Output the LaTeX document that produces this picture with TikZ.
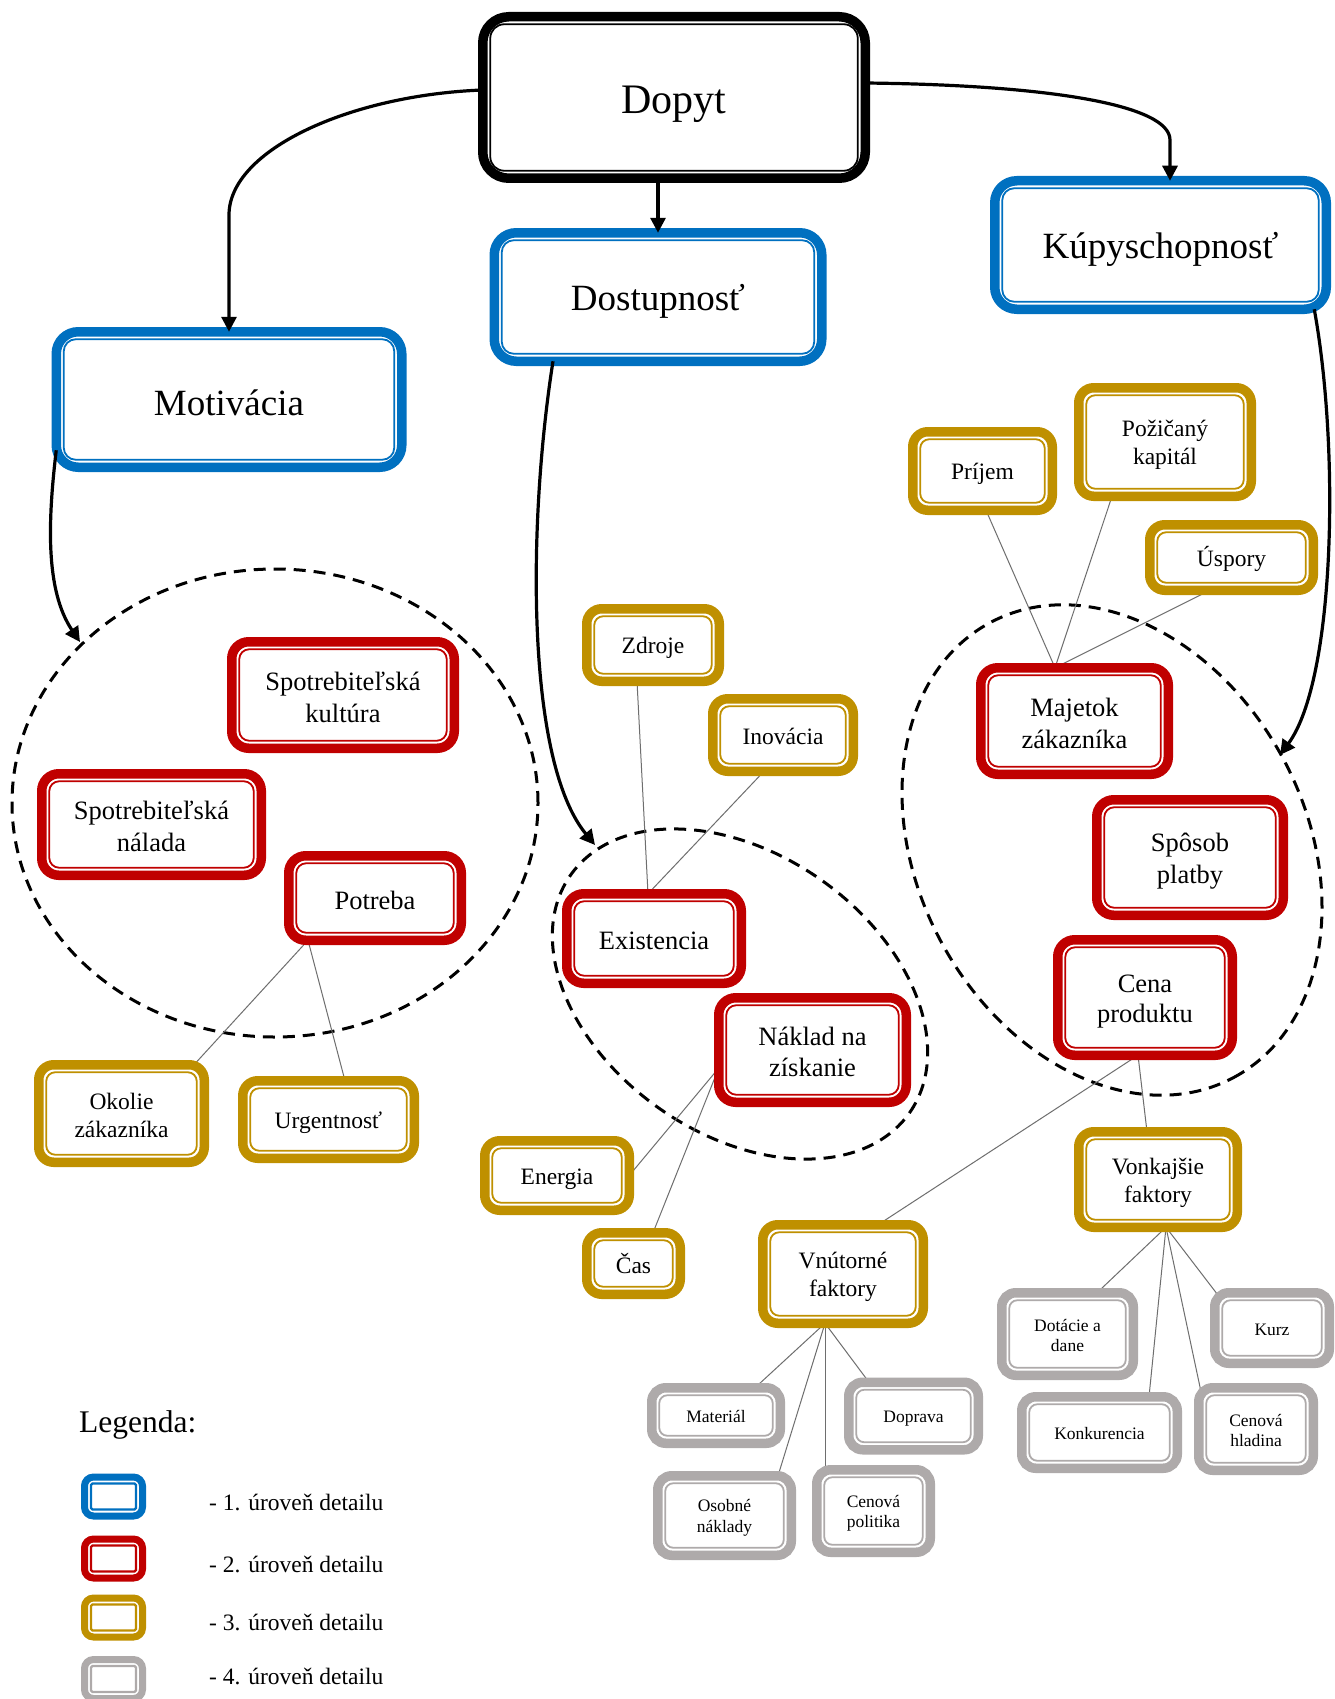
\documentclass[tikz,border=0pt]{standalone}
\usepackage{fontspec}
\setmainfont{Liberation Serif}
\usetikzlibrary{arrows.meta,backgrounds}

\definecolor{lvblue}{HTML}{0070C0}
\definecolor{lvred}{HTML}{C00000}
\definecolor{lvgold}{HTML}{BF9000}
\definecolor{lvgray}{HTML}{AEAAAA}
\definecolor{linkgray}{HTML}{6E6E6E}

\newcommand\szTop{\fontsize{42}{48}\selectfont}
\newcommand\szOne{\fontsize{37}{42}\selectfont}
\newcommand\szTwo{\fontsize{26.5}{30.5}\selectfont}
\newcommand\szThree{\fontsize{23.5}{28}\selectfont}
\newcommand\szFour{\fontsize{17.5}{20.5}\selectfont}
\newcommand\szKey{\fontsize{23.5}{27}\selectfont}
\newcommand\szHead{\fontsize{31.5}{36}\selectfont}
% fixed line strut so that every text line is centred the same way
\newcommand\kst{\rule[-0.12em]{0pt}{1.08em}}

\tikzset{
  % thick outer frame with a thin inner frame
  dbox/.style n args={3}{draw=#1, line width=9.5pt, rounded corners=#2, fill=white,
    inner sep=0pt, outer sep=0pt, align=center,
    path picture={\draw[draw=#1, line width=1.8pt, rounded corners=#3]
      ([shift={(7.5pt,7.5pt)}]path picture bounding box.south west) rectangle
      ([shift={(-7.5pt,-7.5pt)}]path picture bounding box.north east);}},
  boxtop/.style={dbox={black}{26pt}{14pt}, font=\szTop},
  boxone/.style={dbox={lvblue}{22pt}{12pt}, font=\szOne},
  boxtwo/.style={dbox={lvred}{17pt}{10pt}, font=\szTwo},
  boxthree/.style={dbox={lvgold}{15pt}{9pt}, font=\szThree},
  boxfour/.style={dbox={lvgray}{14pt}{8pt}, font=\szFour},
  keybox/.style={draw=#1, line width=7pt, rounded corners=9pt, fill=white,
    inner sep=0pt, outer sep=0pt, minimum width=58pt, minimum height=39pt,
    path picture={\draw[draw=#1, line width=2.2pt, rounded corners=1.5pt]
      ([shift={(6.5pt,6.5pt)}]path picture bounding box.south west) rectangle
      ([shift={(-6.5pt,-6.5pt)}]path picture bounding box.north east);}},
  zone/.style={draw=black, line width=3pt, dash pattern=on 12pt off 8pt},
  conn/.style={draw=black, line width=3.2pt, -{Triangle[length=15pt,width=15pt]}},
  link/.style={draw=linkgray, line width=1pt},
  keytext/.style={anchor=base west, font=\szKey, inner sep=0pt}
}

\begin{document}
\begin{tikzpicture}[x=1pt,y=-1pt]
\useasboundingbox (0,0) rectangle (1334,1699);

% top level
\node[boxtop, minimum width=382.5pt, minimum height=161.5pt] (dopyt) at (674,97.5) {Dopyt\kst};

% level 1
\node[boxone, minimum width=327.5pt, minimum height=128.5pt] (dost) at (658,297) {Dostupnosť\kst};
\node[boxone, minimum width=331.5pt, minimum height=128.5pt] (kupy) at (1160.5,245) {Kúpyschopnosť\kst};
\node[boxone, minimum width=345.5pt, minimum height=135.5pt] (motiv) at (229,399.5) {Motivácia\kst};

% level 2
\node[boxtwo, minimum width=222.5pt, minimum height=106.5pt] (kultura) at (343,695) {Spotrebiteľská\kst\\kultúra\kst};
\node[boxtwo, minimum width=219.5pt, minimum height=101.5pt] (nalada) at (151.5,824.5) {Spotrebiteľská\kst\\nálada\kst};
\node[boxtwo, minimum width=172.5pt, minimum height=84.5pt] (potreba) at (375,898) {Potreba\kst};
\node[boxtwo, minimum width=174.5pt, minimum height=89.5pt] (existencia) at (654,938.5) {Existencia\kst};
\node[boxtwo, minimum width=187.5pt, minimum height=104.5pt] (naklad) at (812.5,1050) {Náklad na\kst\\získanie\kst};
\node[boxtwo, minimum width=187.5pt, minimum height=106.5pt] (majetok) at (1074.5,721) {Majetok\kst\\zákazníka\kst};
\node[boxtwo, minimum width=186.5pt, minimum height=115.5pt] (sposob) at (1190,857.5) {Spôsob\kst\\platby\kst};
\node[boxtwo, minimum width=174.5pt, minimum height=115.5pt] (cena) at (1145,997.5) {Cena\kst\\produktu\kst};

% level 3
\node[boxthree, minimum width=165.5pt, minimum height=97.5pt] (okolie) at (121.5,1113.5) {Okolie\kst\\zákazníka\kst};
\node[boxthree, minimum width=171.5pt, minimum height=77.5pt] (urgent) at (328.5,1119.5) {Urgentnosť\kst};
\node[boxthree, minimum width=132.5pt, minimum height=72.5pt] (zdroje) at (653,645) {Zdroje\kst};
\node[boxthree, minimum width=140.5pt, minimum height=72.5pt] (inovacia) at (783,735) {Inovácia\kst};
\node[boxthree, minimum width=144.5pt, minimum height=69.5pt] (energia) at (557,1175.5) {Energia\kst};
\node[boxthree, minimum width=93.5pt, minimum height=61.5pt] (cas) at (633.5,1263.5) {Čas\kst};
\node[boxthree, minimum width=160.5pt, minimum height=98.5pt] (vnutorne) at (843,1274) {Vnútorné\kst\\faktory\kst};
\node[boxthree, minimum width=158.5pt, minimum height=95.5pt] (vonkajsie) at (1158,1179.5) {Vonkajšie\kst\\faktory\kst};
\node[boxthree, minimum width=139.5pt, minimum height=78.5pt] (prijem) at (982.5,471) {Príjem\kst};
\node[boxthree, minimum width=172.5pt, minimum height=108.5pt] (pozicany) at (1165,442) {Požičaný\kst\\kapitál\kst};
\node[boxthree, minimum width=163.5pt, minimum height=65.5pt] (uspory) at (1231.5,557.5) {Úspory\kst};

% level 4
\node[boxfour, minimum width=128.5pt, minimum height=55.5pt] (material) at (716,1415.5) {Materiál\kst};
\node[boxfour, minimum width=133.5pt, minimum height=79.5pt] (osobne) at (724.5,1515.5) {Osobné\kst\\náklady\kst};
\node[boxfour, minimum width=113.5pt, minimum height=82.5pt] (politika) at (873.5,1511) {Cenová\kst\\politika\kst};
\node[boxfour, minimum width=129.5pt, minimum height=67.5pt] (doprava) at (913.5,1416) {Doprava\kst};
\node[boxfour, minimum width=131.5pt, minimum height=82.5pt] (dotacie) at (1067.5,1334) {Dotácie a\kst\\dane\kst};
\node[boxfour, minimum width=114.5pt, minimum height=70.5pt] (kurz) at (1272,1328) {Kurz\kst};
\node[boxfour, minimum width=155.5pt, minimum height=71.5pt] (konkurencia) at (1099.5,1432.5) {Konkurencia\kst};
\node[boxfour, minimum width=114.5pt, minimum height=82.5pt] (hladina) at (1256,1429) {Cenová\kst\\hladina\kst};

% legend
\node[anchor=base west, font=\szHead, inner sep=0pt] (legtitle) at (79,1432) {Legenda:};
\node[keybox=lvblue] (key1) at (113.5,1496.5) {};
\node[keybox=lvred] (key2) at (113.5,1558.5) {};
\node[keybox=lvgold] (key3) at (113.5,1617.5) {};
\node[keybox=lvgray] (key4) at (113.5,1679) {};
\node[keytext] (keytext1) at (209,1510) {- 1. úroveň detailu};
\node[keytext] (keytext2) at (209,1572.5) {- 2. úroveň detailu};
\node[keytext] (keytext3) at (209,1630) {- 3. úroveň detailu};
\node[keytext] (keytext4) at (209,1684) {- 4. úroveň detailu};

% arrival points of the arrows on the grouping ellipses
\coordinate (ellL) at (80,642);
\coordinate (ellM) at (595,845);
\coordinate (ellR) at (1280,755);

\begin{pgfonlayer}{background}
  \fill[white] (0,0) rectangle (1334,1699);
  % grouping ellipses
  \draw[zone] (275,803) ellipse [x radius=263pt, y radius=234pt];
  \draw[zone, rotate around={-35:(740,994)}] (740,994) ellipse [x radius=207pt, y radius=140pt];
  \draw[zone, rotate around={-61.8:(1112,850)}] (1112,850) ellipse [x radius=258pt, y radius=194pt];

  % thin relation lines
  \draw[link] ([xshift=-67pt]potreba.south) -- ([xshift=72.5pt]okolie.north);
  \draw[link] ([xshift=-67pt]potreba.south) -- ([xshift=16.5pt]urgent.north);
  \draw[link] ([xshift=-16pt]zdroje.south) -- ([xshift=-6pt]existencia.north);
  \draw[link] ([xshift=-19pt]inovacia.south) -- ([xshift=-6pt]existencia.north);
  \draw[link] ([yshift=-18pt]naklad.west) -- (energia.east);
  \draw[link] ([yshift=-18pt]naklad.west) -- ([xshift=19.5pt]cas.north);
  \draw[link] ([xshift=-7pt]cena.south) -- ([xshift=35pt]vnutorne.north);
  \draw[link] ([xshift=-7pt]cena.south) -- ([xshift=-11pt]vonkajsie.north);
  \draw[link] ([xshift=-18pt]vnutorne.south) -- ([xshift=39pt]material.north);
  \draw[link] ([xshift=-18pt]vnutorne.south) -- ([xshift=53.5pt]osobne.north);
  \draw[link] ([xshift=-18pt]vnutorne.south) -- ([xshift=-48.5pt]politika.north);
  \draw[link] ([xshift=-18pt]vnutorne.south) -- ([xshift=-44.5pt]doprava.north);
  \draw[link] ([xshift=8pt]vonkajsie.south) -- ([xshift=29.5pt]dotacie.north);
  \draw[link] ([xshift=8pt]vonkajsie.south) -- ([xshift=49.5pt]konkurencia.north);
  \draw[link] ([xshift=8pt]vonkajsie.south) -- ([xshift=-55pt,yshift=-4pt]hladina.north);
  \draw[link] ([xshift=8pt]vonkajsie.south) -- ([xshift=-52pt,yshift=-5pt]kurz.north);
  \draw[link] ([xshift=3.5pt]prijem.south) -- ([xshift=-19.5pt]majetok.north);
  \draw[link] ([xshift=-53pt]pozicany.south) -- ([xshift=-19.5pt]majetok.north);
  \draw[link] ([xshift=-21.5pt]uspory.south) -- ([xshift=-19.5pt]majetok.north);
\end{pgfonlayer}

% main arrows
\draw[conn] ([yshift=7.5pt]dopyt.west) .. controls (350,95) and (229,150) .. (229,215) -- (motiv.north);
\draw[conn] ([xshift=-16pt]dopyt.south) -- (dost.north);
\draw[conn] ([yshift=14.5pt]dopyt.east) .. controls (1050,85) and (1170,105) .. (1170,140) -- ([xshift=9.5pt]kupy.north);
\draw[conn] ([yshift=17pt]motiv.south west) .. controls (48,520) and (45,590) .. (ellL);
\draw[conn] ([xshift=-105pt]dost.south) .. controls (528,520) and (525,760) .. (ellM);
\draw[conn] ([xshift=-12pt]kupy.south east) .. controls (1340,450) and (1335,680) .. (ellR);
\end{tikzpicture}
\end{document}
